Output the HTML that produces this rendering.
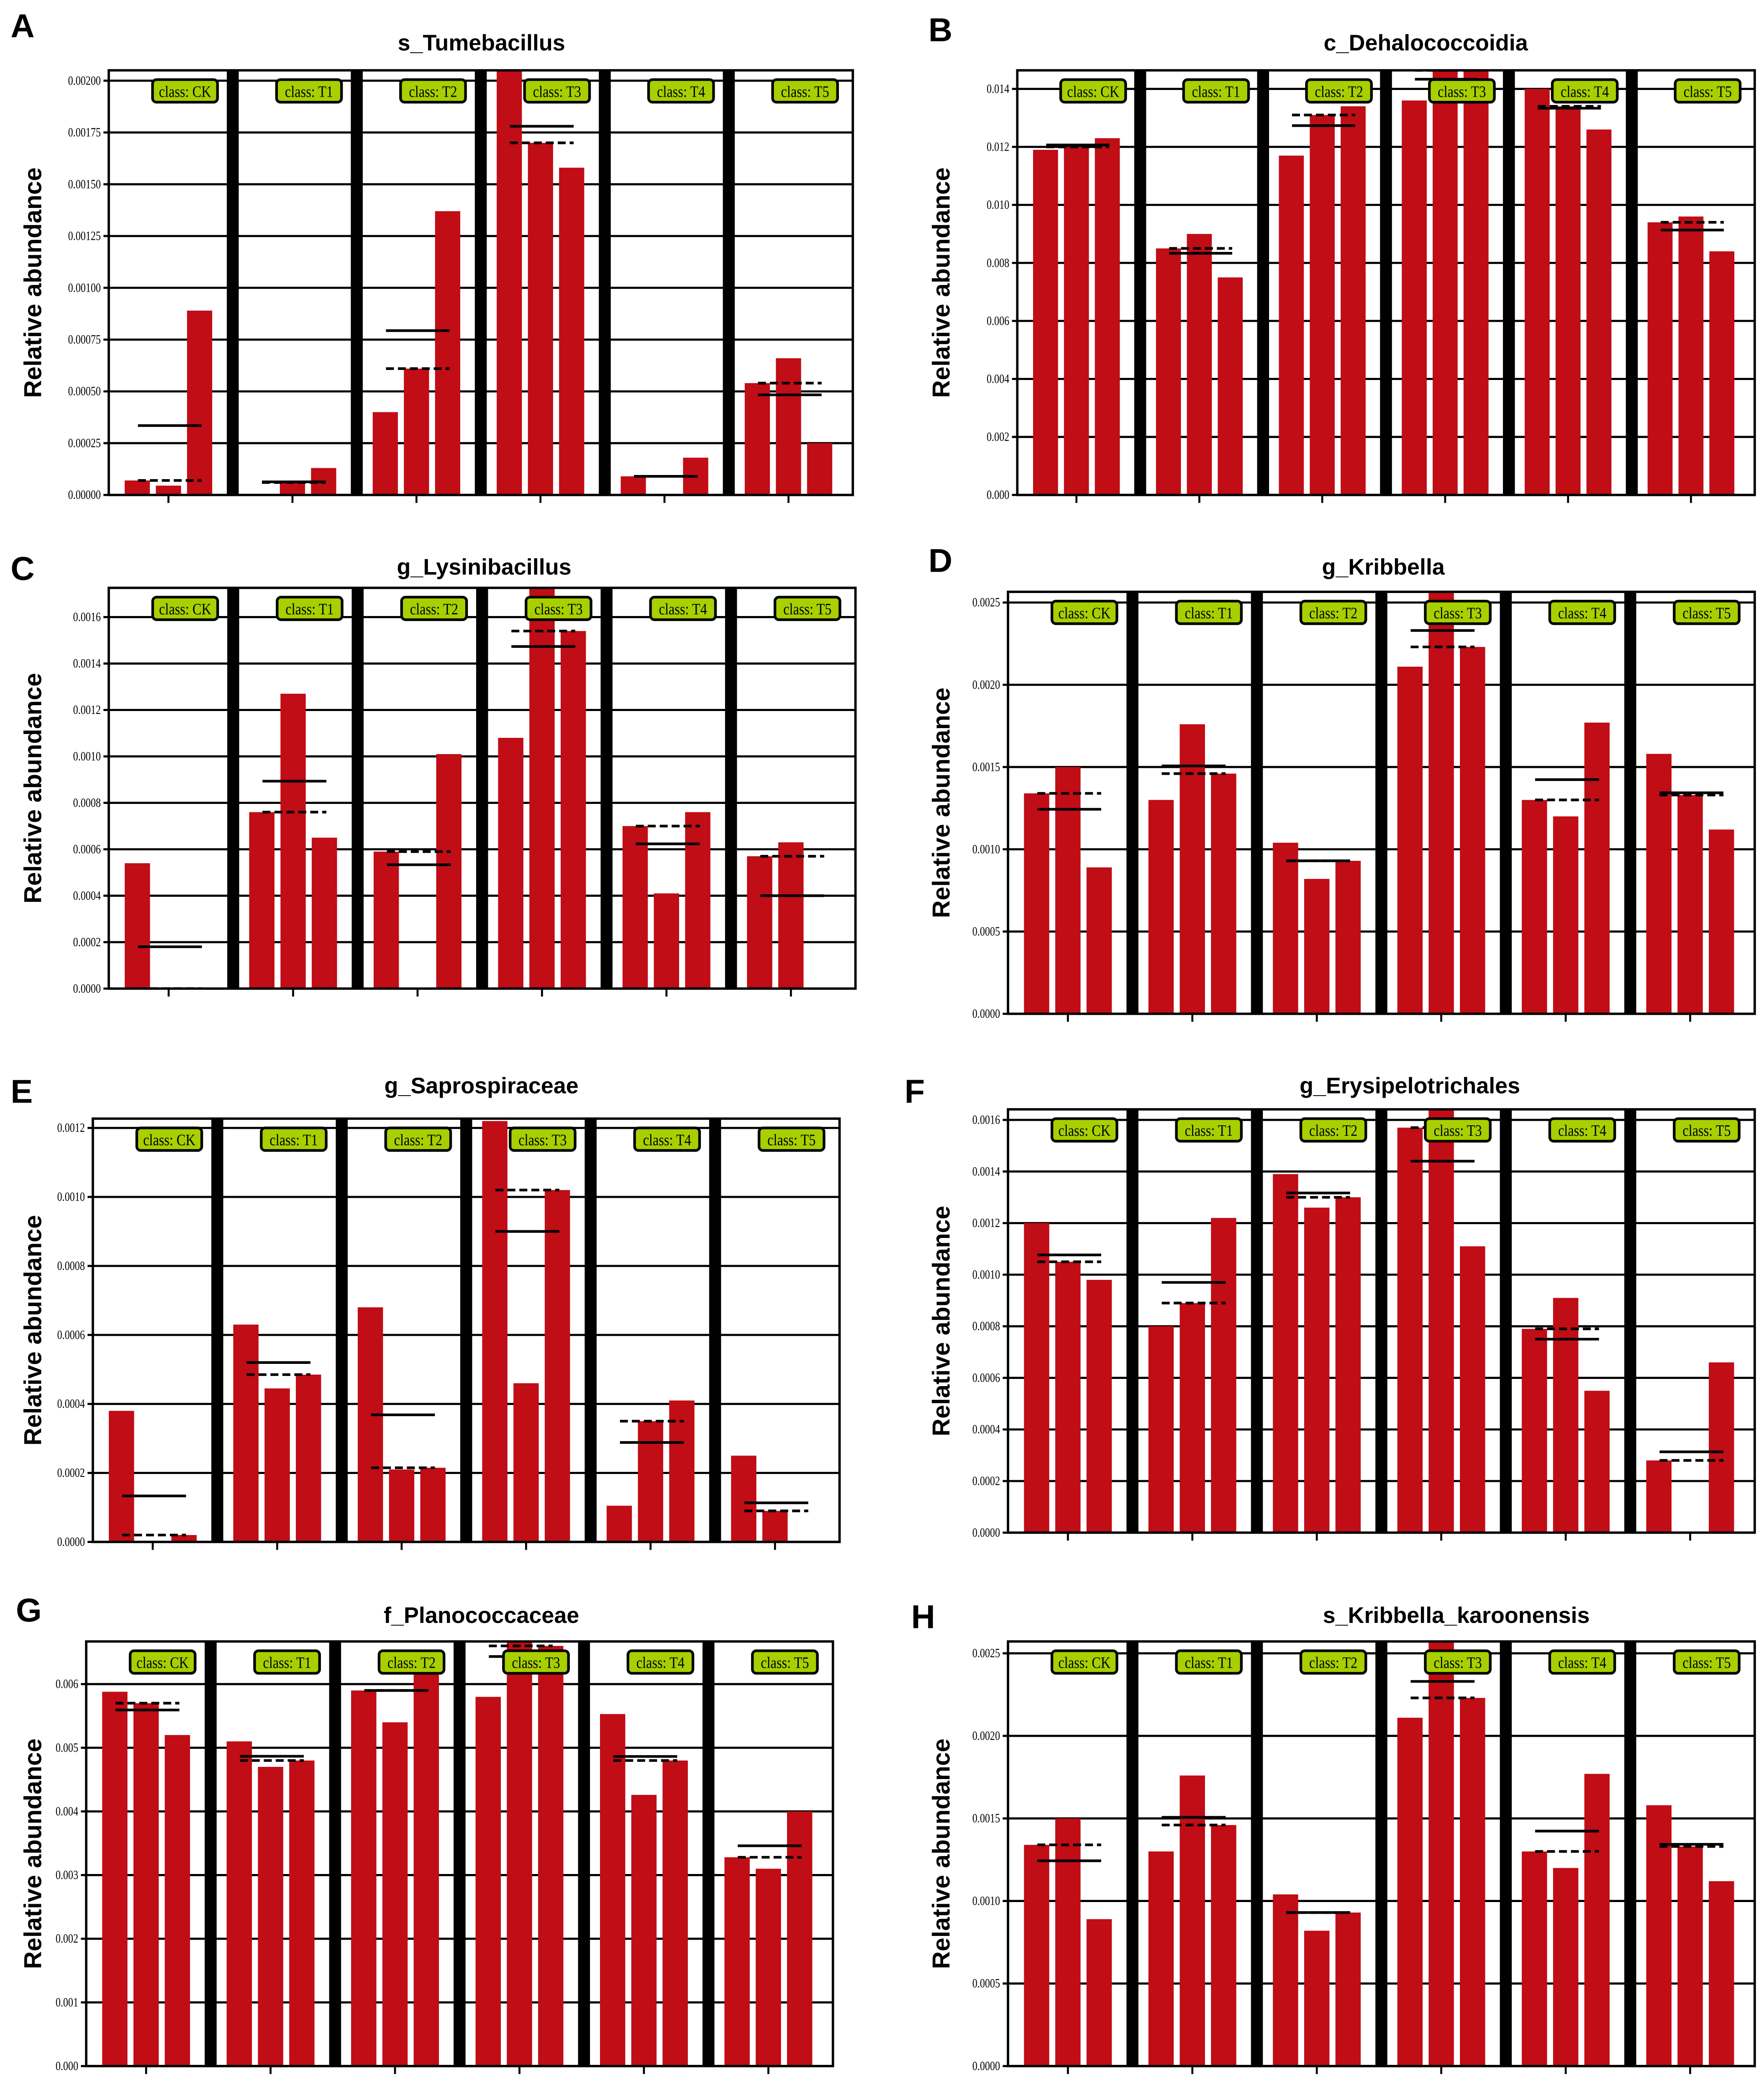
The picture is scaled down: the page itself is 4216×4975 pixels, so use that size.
<!DOCTYPE html>
<html><head><meta charset="utf-8"><style>html,body{margin:0;padding:0;background:#fff}svg{display:block}</style></head>
<body>
<svg id="fig" xmlns="http://www.w3.org/2000/svg" width="4216" height="4975" viewBox="0 0 1330 1569" preserveAspectRatio="none"></svg>
<script>
const groups = ["CK","T1","T2","T3","T4","T5"];
const titles = ["s_Tumebacillus","c_Dehalococcoidia","g_Lysinibacillus","g_Kribbella","g_Saprospiraceae","g_Erysipelotrichales","f_Planococcaceae","s_Kribbella_karoonensis"];
const letters = ["A","B","C","D","E","F","G","H"];
const valsA = [[0.00007,0.000045,0.00089],[0,0.00006,0.00013],[0.0004,0.00061,0.00137],[0.00206,0.0017,0.00158],[0.00009,0,0.00018],[0.00054,0.00066,0.00025]];
const valsB = [[0.0119,0.0120,0.0123],[0.0085,0.0090,0.0075],[0.0117,0.0131,0.0134],[0.0136,0.0147,0.0147],[0.0140,0.0134,0.0126],[0.0094,0.0096,0.0084]];
const valsC = [[0.00054,0,0],[0.00076,0.00127,0.00065],[0.00059,0,0.00101],[0.00108,0.0018,0.00154],[0.0007,0.00041,0.00076],[0.00057,0.00063,0]];
const valsD = [[0.00134,0.0015,0.00089],[0.0013,0.00176,0.00146],[0.00104,0.00082,0.00093],[0.00211,0.00265,0.00223],[0.0013,0.0012,0.00177],[0.00158,0.00133,0.00112]];
const valsE = [[0.00038,0,0.00002],[0.00063,0.000445,0.000485],[0.00068,0.00021,0.000215],[0.00122,0.00046,0.00102],[0.000105,0.00035,0.00041],[0.00025,0.00009,0]];
const valsF = [[0.0012,0.00105,0.00098],[0.0008,0.00089,0.00122],[0.00139,0.00126,0.0013],[0.00157,0.00164,0.00111],[0.00079,0.00091,0.00055],[0.00028,0,0.00066]];
const valsG = [[0.00588,0.0057,0.0052],[0.0051,0.0047,0.0048],[0.0059,0.0054,0.0064],[0.0058,0.0069,0.0066],[0.00553,0.00426,0.0048],[0.00328,0.0031,0.004]];
const valsH = valsD;
const ticksA = [0,0.00025,0.0005,0.00075,0.001,0.00125,0.0015,0.00175,0.002];
const ticksB = [0,0.002,0.004,0.006,0.008,0.010,0.012,0.014];
const ticksC = [0,0.0002,0.0004,0.0006,0.0008,0.001,0.0012,0.0014,0.0016];
const ticksD = [0,0.0005,0.001,0.0015,0.002,0.0025];
const ticksE = [0,0.0002,0.0004,0.0006,0.0008,0.001,0.0012];
const ticksF = [0,0.0002,0.0004,0.0006,0.0008,0.001,0.0012,0.0014,0.0016];
const ticksG = [0,0.001,0.002,0.003,0.004,0.005,0.006];
const ticksH = ticksD;
const decimals = [5,3,4,4,4,4,3,4];
const ymaxes = [0.00205,0.01464,0.001726,0.002565,0.001227,0.001641,0.00667,0.002572];

const panelVals=[valsA,valsB,valsC,valsD,valsE,valsF,valsG,valsH];
const panelTicks=[ticksA,ticksB,ticksC,ticksD,ticksE,ticksF,ticksG,ticksH];
const layout=[[82,53,643,373,363,38,8,28,24],[767,53,1323,373,1075,38,700,31,709],
[82,443,645,745,365,433,8,437,24],[760,446,1323,764,1043,433,700,431,709],
[70,843,633,1162,363,824,8,831,24],[760,836,1323,1155,1063,824,682,831,709],
[65,1237,628,1557,363,1223,12,1222,24],[760,1237,1323,1557,1098,1223,687,1227,709]];
const NS="http://www.w3.org/2000/svg";
const svg=document.getElementById('fig');
function mk(tag,attrs,parent){const e=document.createElementNS(NS,tag);for(const k in attrs)e.setAttribute(k,attrs[k]);(parent||svg).appendChild(e);return e;}
const med=a=>{const s=[...a].sort((x,y)=>x-y);return s[1];};
const mean=a=>a.reduce((x,y)=>x+y,0)/a.length;
panelVals.forEach((vals,p)=>{
  const [x0,y0,x1,y1,tx,ty,lx,ly,yx]=layout[p];
  const g=mk('g',{});
  
  
  const ymax=ymaxes[p];
  const Y=v=>y1-(Math.min(v,ymax)/ymax)*(y1-y0);
  const pitch=(x1-x0)/6;
  const GX=i=>x0+i*pitch;
  const k=pitch/93.5;
  const cid='clip'+p;
  const cp=mk('clipPath',{id:cid},g);mk('rect',{x:x0,y:y0,width:x1-x0,height:y1-y0},cp);
  const t=mk('text',{x:lx,y:ly,'font-family':'Liberation Sans, sans-serif','font-weight':'bold','font-size':25},g);t.textContent=letters[p];
  
  const tt=mk('text',{x:tx,y:ty,'text-anchor':'middle','font-family':'Liberation Sans, sans-serif','font-weight':'bold','font-size':17},g);tt.textContent=titles[p];
  
  const yc=(y0+y1)/2;
  const yt=mk('text',{x:yx,y:yc,'text-anchor':'middle','font-family':'Liberation Sans, sans-serif','font-weight':'bold','font-size':18.5,transform:`rotate(-90 ${yx} ${yc}) translate(0 7)`},g);yt.textContent='Relative abundance';
  
  panelTicks[p].forEach(v=>{
    const y=Y(v);
    const l=mk('line',{x1:x0-4,x2:x1,y1:y,y2:y,stroke:'#000','stroke-width':1.6},g);
    
    const lb=mk('text',{x:x0-6,y:y+3,'text-anchor':'end','font-family':'Liberation Serif, serif','font-size':9.5,transform:`translate(${x0-6} 0) scale(0.8 1) translate(${-(x0-6)} 0)`},g);
    lb.textContent=v.toFixed(decimals[p]);
    
  });
  const cg=mk('g',{'clip-path':`url(#${cid})`},g);
  vals.forEach((arr,i)=>{
    const gx=GX(i);
    arr.forEach((v,j)=>{
      const bx=gx+12*k+j*23.5*k;
      const b=mk('rect',{x:bx,y:Y(v),width:19*k,height:y1-Y(v),fill:'#c00d16'},cg);
      
      
    });
    const lx1=gx+22*k, lx2=gx+70*k;
    const mn=mk('line',{x1:lx1,x2:lx2,y1:Y(mean(arr)),y2:Y(mean(arr)),stroke:'#000','stroke-width':2},cg);
    
    const md=mk('line',{x1:lx1,x2:lx2,y1:Y(med(arr)),y2:Y(med(arr)),stroke:'#000','stroke-width':2,'stroke-dasharray':'6 3'},cg);
    
    const cx=gx+12*k+23.5*k+9.5*k;
    const tk=mk('line',{x1:cx,x2:cx,y1:y1,y2:y1+6,stroke:'#000','stroke-width':1.5},g);
    
    if(i<5){const sx=gx+pitch;
      const s=mk('rect',{x:sx-4.5,y:y0,width:9,height:y1-y0,fill:'#000'},g);
      }
    const bx=gx+33*k;
    const lbg=mk('g',{},g);
    
    mk('rect',{x:bx,y:y0+7,width:49,height:17,rx:3,fill:'#a8cf00',stroke:'#000','stroke-width':2},lbg);
    const lt=mk('text',{x:bx+24.5,y:y0+20,'text-anchor':'middle','font-family':'Liberation Serif, serif','font-size':12,transform:`translate(${bx+24.5} 0) scale(0.85 1) translate(${-(bx+24.5)} 0)`},lbg);
    lt.textContent='class: '+groups[i];
  });
  const fr=mk('rect',{x:x0,y:y0,width:x1-x0,height:y1-y0,fill:'none',stroke:'#000','stroke-width':1.8},g);
  
});
</script>
</body></html>
